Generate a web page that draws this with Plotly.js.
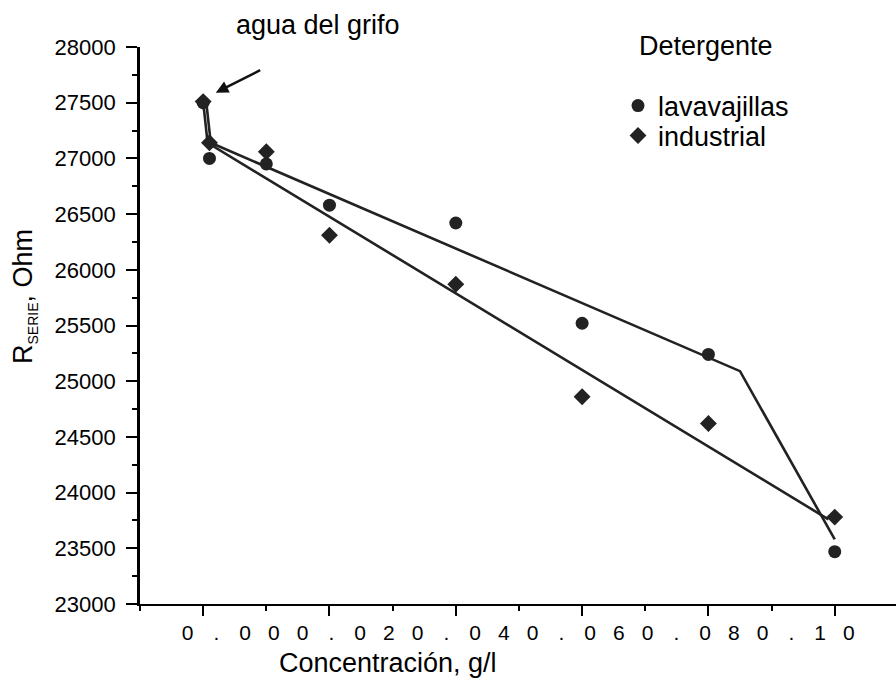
<!DOCTYPE html>
<html><head><meta charset="utf-8">
<script src="https://cdn.plot.ly/plotly-3.0.1.min.js"></script>
<style>body{margin:0;background:#fff}#chart{width:896px;height:686px}</style>
</head><body><div id="chart"></div>
<script>
// ---- data ----
const concentration = [0, 0.001, 0.01, 0.02, 0.04, 0.06, 0.08, 0.1];
const lavavajillas  = [27500, 27000, 26950, 26580, 26420, 25520, 25240, 23470];
const industrial    = [27510, 27140, 27060, 26310, 25870, 24860, 24620, 23780];
const fitLavX = [0.0005, 0.0012, 0.085, 0.1];
const fitLavY = [27500, 27140, 25090, 23580];
const fitIndX = [0, 0.0007, 0.099];
const fitIndY = [27510, 27140, 23760];
const xTickLabels = ['0.00', '0.02', '0.04', '0.06', '0.08', '0.10'];
const yTickVals = [23000, 23500, 24000, 24500, 25000, 25500, 26000, 26500, 27000, 27500, 28000];

// ---- layout geometry ----
const W = 896, H = 686;
const L = 140, R = 0, T = 47, B = 82;
const pw = W - L - R, ph = H - T - B;
const xRange = [-0.01, 0.1097];
const yRange = [23000, 28000];
const px = p => (p - L) / pw;           // pixel x -> paper
const py = p => (H - B - p) / ph;       // pixel y -> paper
const dataPerPx = (xRange[1] - xRange[0]) / pw;

// tick label characters spread along the axis, as in the original
const chars = xTickLabels.join('').split('');
const charStartPx = 187.7, charStepPx = 28.75;
const charVals = chars.map((c, i) => xRange[0] + (charStartPx + i * charStepPx - L) * dataPerPx);

const FONT = 'Liberation Sans, Arial, sans-serif';
const INK = '#222';

const traces = [
  {x: fitLavX, y: fitLavY, mode: 'lines', line: {color: INK, width: 2.6}, showlegend: false, hoverinfo: 'skip'},
  {x: fitIndX, y: fitIndY, mode: 'lines', line: {color: INK, width: 2.6}, showlegend: false, hoverinfo: 'skip'},
  {x: concentration, y: lavavajillas, mode: 'markers', name: 'lavavajillas',
   marker: {symbol: 'circle', size: 13, color: INK}, legend: 'legend'},
  {x: concentration, y: industrial, mode: 'markers', name: 'industrial',
   marker: {symbol: 'diamond', size: 13, color: INK}, legend: 'legend2'},
  {x: [], y: [], xaxis: 'x2', showlegend: false}
];

const layout = {
  width: W, height: H,
  margin: {l: L, r: R, t: T, b: B},
  paper_bgcolor: '#fff', plot_bgcolor: '#fff',
  font: {family: FONT, color: '#000'},
  xaxis: {
    range: xRange, showgrid: false, zeroline: false,
    showline: true, linecolor: '#000', linewidth: 2.4,
    tick0: 0, dtick: 0.02, ticks: 'outside', ticklen: 10, tickwidth: 2, tickcolor: '#000',
    minor: {dtick: 0.01, ticks: 'outside', ticklen: 5, tickwidth: 2, tickcolor: '#000', showgrid: false},
    showticklabels: false
  },
  xaxis2: {
    overlaying: 'x', anchor: 'y', side: 'bottom', range: xRange,
    showgrid: false, zeroline: false, showline: false, ticks: '',
    tickmode: 'array', tickvals: charVals, ticktext: chars,
    tickfont: {family: FONT, size: 21, color: '#000'}, ticklabelstandoff: 14
  },
  yaxis: {
    range: yRange, showgrid: false, zeroline: false,
    showline: true, linecolor: '#000', linewidth: 2.8,
    tickmode: 'array', tickvals: yTickVals, ticktext: yTickVals.map(String),
    ticks: 'outside', ticklen: 11, tickwidth: 2, tickcolor: '#000',
    minor: {dtick: 250, ticks: 'outside', ticklen: 5, tickwidth: 2, tickcolor: '#000', showgrid: false},
    tickfont: {family: FONT, size: 22, color: '#000'}, ticklabelstandoff: 6
  },
  legend: {
    x: px(618), y: py(106), xanchor: 'left', yanchor: 'middle',
    bgcolor: 'rgba(0,0,0,0)', borderwidth: 0,
    font: {family: FONT, size: 27, color: '#000'}
  },
  legend2: {
    x: px(618), y: py(136), xanchor: 'left', yanchor: 'middle',
    bgcolor: 'rgba(0,0,0,0)', borderwidth: 0,
    font: {family: FONT, size: 27, color: '#000'}
  },
  annotations: [
    {xref: 'paper', yref: 'paper', x: px(388), y: py(663), text: 'Concentración, g/l',
     showarrow: false, xanchor: 'center', yanchor: 'middle', font: {family: FONT, size: 27, color: '#000'}},
    {xref: 'paper', yref: 'paper', x: px(24), y: py(297), textangle: -90,
     text: 'R<sub><span style="font-size:14px">SERIE</span></sub>, Ohm',
     showarrow: false, xanchor: 'center', yanchor: 'middle', font: {family: FONT, size: 27, color: '#000'}},
    {xref: 'paper', yref: 'paper', x: px(317.5), y: py(25), text: 'agua del grifo',
     showarrow: false, xanchor: 'center', yanchor: 'middle', font: {family: FONT, size: 27, color: '#000'}},
    {xref: 'paper', yref: 'paper', x: px(706), y: py(46), text: 'Detergente',
     showarrow: false, xanchor: 'center', yanchor: 'middle', font: {family: FONT, size: 27, color: '#000'}},
    {xref: 'x', yref: 'y', axref: 'x', ayref: 'y',
     x: 0.002, y: 27590, ax: 0.0095, ay: 27805, text: ' ',
     showarrow: true, arrowhead: 2, arrowsize: 1, arrowwidth: 2.5, arrowcolor: '#111', standoff: 0}
  ]
};

Plotly.newPlot('chart', traces, layout, {staticPlot: true, displayModeBar: false});
</script>
</body></html>
